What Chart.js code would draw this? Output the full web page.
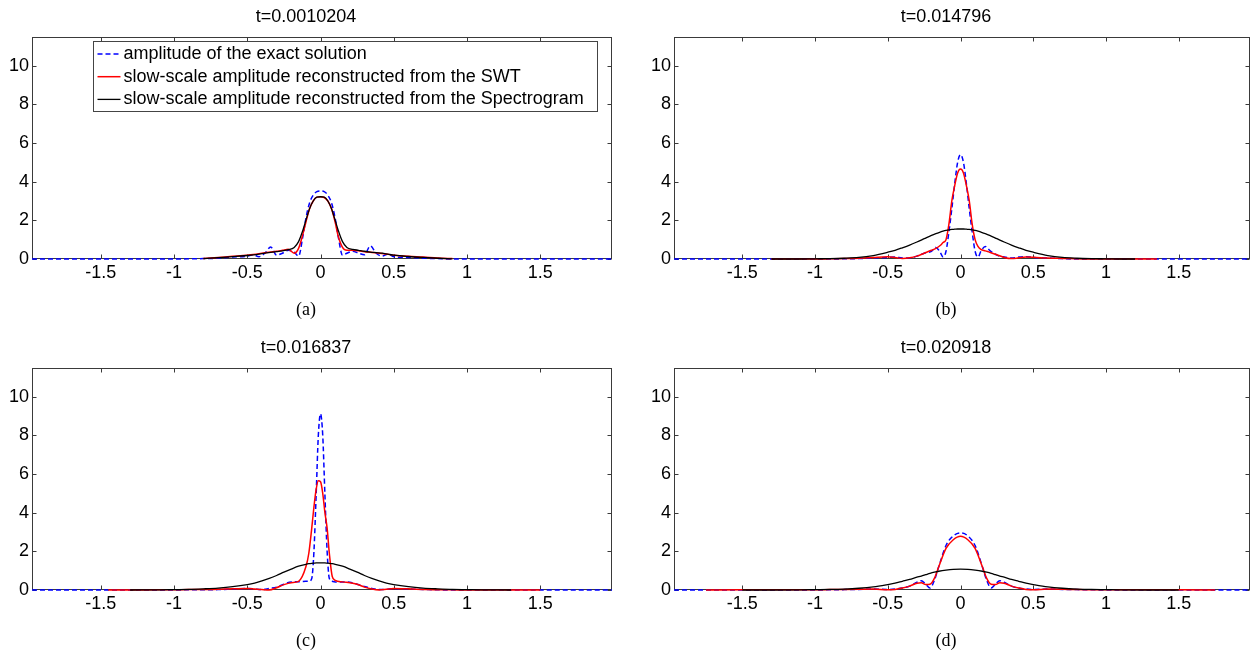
<!DOCTYPE html>
<html>
<head>
<meta charset="utf-8">
<script src="https://cdn.jsdelivr.net/npm/chart.js@4.4.0/dist/chart.umd.min.js"></script>
<style>
  html, body { margin: 0; padding: 0; background: #fff; }
  body { width: 1256px; height: 657px; position: relative; overflow: hidden; }
  canvas { position: absolute; }
</style>
</head>
<body>
<canvas id="chartA" width="628" height="328" style="left:0;top:0"></canvas>
<canvas id="chartB" width="614" height="328" style="left:642px;top:0"></canvas>
<canvas id="chartC" width="628" height="328" style="left:0;top:331px"></canvas>
<canvas id="chartD" width="614" height="328" style="left:642px;top:331px"></canvas>
<script>
const xTicks = [-1.5, -1, -0.5, 0, 0.5, 1, 1.5];
const yTicks = [0, 2, 4, 6, 8, 10];
const seriesNames = [
  "amplitude of the exact solution",
  "slow-scale amplitude reconstructed from the SWT",
  "slow-scale amplitude reconstructed from the Spectrogram",
];
const titles = ["t=0.0010204", "t=0.014796", "t=0.016837", "t=0.020918"];
const captions = ["(a)", "(b)", "(c)", "(d)"];

// (a)
const aX = [-1.97, -1.0, -0.8, -0.7, -0.6, -0.5, -0.46, -0.42, -0.38, -0.34, -0.3, -0.26, -0.22, -0.18, -0.15, -0.12, -0.1, -0.075, -0.05, -0.025, 0, 0.025, 0.05, 0.075, 0.1, 0.12, 0.15, 0.18, 0.22, 0.26, 0.3, 0.34, 0.38, 0.42, 0.46, 0.5, 0.6, 0.7, 0.8, 0.9, 1.0, 1.99];
const aExact = [0, 0, 0.02, 0.04, 0.1, 0.15, 0.22, 0.12, 0.3, 0.62, 0.2, 0.3, 0.45, 0.35, 0.15, 1.2, 2.1, 2.9, 3.3, 3.48, 3.52, 3.48, 3.3, 2.9, 2.1, 1.2, 0.2, 0.3, 0.4, 0.3, 0.22, 0.68, 0.3, 0.15, 0.25, 0.12, 0.08, 0.04, 0.02, 0, 0, 0];
const aSwt = [null, null, 0.02, 0.08, 0.14, 0.2, 0.23, 0.27, 0.32, 0.36, 0.4, 0.45, 0.5, 0.3, 0.55, 1.3, 1.9, 2.6, 3.0, 3.2, 3.22, 3.18, 3.0, 2.6, 1.9, 1.2, 0.6, 0.45, 0.45, 0.42, 0.38, 0.35, 0.32, 0.28, 0.24, 0.2, 0.14, 0.1, 0.05, 0.02, null, null];
const aSpec = [null, null, 0.02, 0.07, 0.12, 0.18, 0.21, 0.25, 0.3, 0.34, 0.38, 0.42, 0.48, 0.6, 0.9, 1.5, 2.0, 2.6, 3.0, 3.2, 3.22, 3.2, 3.0, 2.6, 2.0, 1.5, 0.9, 0.6, 0.5, 0.45, 0.4, 0.36, 0.33, 0.3, 0.25, 0.2, 0.13, 0.08, 0.04, 0.01, null, null];

// (b)
const bX = [-1.97, -1.3, -1.1, -1.0, -0.9, -0.8, -0.7, -0.6, -0.5, -0.45, -0.4, -0.35, -0.3, -0.25, -0.2, -0.17, -0.14, -0.12, -0.1, -0.08, -0.06, -0.04, -0.02, 0, 0.02, 0.04, 0.06, 0.08, 0.1, 0.12, 0.14, 0.17, 0.2, 0.25, 0.3, 0.35, 0.4, 0.45, 0.5, 0.6, 0.7, 0.8, 0.9, 1.0, 1.1, 1.2, 1.35, 1.99];
const bExact = [0, 0, 0, 0, 0, 0.01, 0.02, 0.05, 0.08, 0.1, 0.05, 0.05, 0.15, 0.3, 0.4, 0.6, 0.35, 0.1, 0.4, 1.4, 2.6, 3.9, 5.0, 5.4, 5.0, 3.9, 2.6, 1.4, 0.4, 0.1, 0.4, 0.65, 0.45, 0.2, 0.1, 0.05, 0.1, 0.12, 0.08, 0.05, 0.02, 0, 0, 0, 0, 0, 0, 0];
const bSwt = [null, 0, 0, 0, 0.01, 0.02, 0.04, 0.08, 0.12, 0.08, 0.03, 0.06, 0.15, 0.3, 0.45, 0.55, 0.7, 0.85, 1.0, 1.8, 3.0, 3.8, 4.45, 4.65, 4.45, 3.8, 3.0, 1.8, 1.0, 0.65, 0.5, 0.42, 0.35, 0.22, 0.08, 0.02, 0.06, 0.1, 0.09, 0.05, 0.03, 0.01, 0, 0, 0, 0, 0, null];
const bSpec = [null, 0, 0, 0.01, 0.02, 0.04, 0.08, 0.18, 0.35, 0.45, 0.58, 0.72, 0.88, 1.05, 1.22, 1.31, 1.39, 1.44, 1.48, 1.51, 1.53, 1.54, 1.55, 1.55, 1.55, 1.54, 1.53, 1.51, 1.48, 1.44, 1.39, 1.31, 1.22, 1.05, 0.88, 0.72, 0.58, 0.45, 0.35, 0.18, 0.08, 0.04, 0.02, 0.01, 0, 0, null, null];

// (c)
const cX = [-1.97, -1.45, -1.3, -1.1, -1.0, -0.9, -0.8, -0.7, -0.6, -0.5, -0.45, -0.4, -0.35, -0.3, -0.25, -0.2, -0.15, -0.1, -0.08, -0.06, -0.045, -0.03, -0.015, 0, 0.015, 0.03, 0.045, 0.06, 0.08, 0.1, 0.15, 0.2, 0.25, 0.3, 0.35, 0.4, 0.45, 0.5, 0.6, 0.7, 0.8, 0.9, 1.0, 1.1, 1.3, 1.5, 1.99];
const cExact = [0, 0, 0, 0, 0, 0.01, 0.01, 0.02, 0.05, 0.08, 0.05, 0.02, 0.08, 0.15, 0.3, 0.42, 0.43, 0.45, 0.45, 0.6, 2.0, 4.9, 8.0, 9.1, 8.0, 4.9, 2.0, 0.6, 0.45, 0.42, 0.42, 0.4, 0.3, 0.18, 0.08, 0.02, 0.04, 0.07, 0.05, 0.03, 0.01, 0, 0, 0, 0, 0, 0];
const cSwt = [null, 0, 0, 0.01, 0.01, 0.02, 0.02, 0.04, 0.06, 0.08, 0.05, 0.02, 0, 0.12, 0.28, 0.38, 0.45, 1.2, 1.9, 3.2, 4.3, 5.2, 5.65, 5.6, 5.0, 4.0, 3.2, 1.9, 0.7, 0.5, 0.42, 0.38, 0.3, 0.15, 0.05, 0, 0.04, 0.08, 0.06, 0.03, 0.01, 0.01, 0, 0, 0, 0, null];
const cSpec = [null, null, 0, 0.01, 0.02, 0.03, 0.06, 0.1, 0.17, 0.28, 0.36, 0.47, 0.6, 0.75, 0.92, 1.08, 1.23, 1.33, 1.36, 1.38, 1.39, 1.4, 1.4, 1.4, 1.4, 1.4, 1.39, 1.38, 1.36, 1.33, 1.23, 1.08, 0.92, 0.75, 0.6, 0.47, 0.36, 0.28, 0.17, 0.1, 0.06, 0.03, 0.02, 0.01, 0, null, null];

// (d)
const dX = [-1.97, -1.75, -1.5, -1.3, -1.1, -1.0, -0.9, -0.8, -0.7, -0.6, -0.5, -0.45, -0.4, -0.35, -0.3, -0.27, -0.24, -0.21, -0.18, -0.15, -0.1, -0.05, 0, 0.05, 0.1, 0.15, 0.18, 0.21, 0.24, 0.27, 0.3, 0.35, 0.4, 0.45, 0.5, 0.6, 0.7, 0.8, 0.9, 1.0, 1.1, 1.3, 1.5, 1.75, 1.99];
const dExact = [0, 0, 0, 0, 0, 0, 0.01, 0.02, 0.03, 0.05, 0.03, 0.05, 0.1, 0.2, 0.4, 0.48, 0.3, 0.1, 0.5, 1.2, 2.3, 2.8, 2.95, 2.8, 2.3, 1.2, 0.5, 0.1, 0.3, 0.48, 0.4, 0.2, 0.1, 0.05, 0.03, 0.05, 0.03, 0.02, 0.01, 0, 0, 0, 0, 0, 0];
const dSwt = [null, 0, 0.01, 0.01, 0.01, 0.01, 0.02, 0.03, 0.04, 0.05, 0.01, 0.03, 0.1, 0.2, 0.35, 0.38, 0.28, 0.3, 0.6, 1.2, 2.15, 2.6, 2.78, 2.6, 2.15, 1.2, 0.6, 0.3, 0.28, 0.38, 0.35, 0.2, 0.1, 0.03, 0.01, 0.05, 0.04, 0.02, 0.01, 0.01, 0.01, 0.01, 0.01, 0, null];
const dSpec = [null, null, 0, 0, 0.01, 0.02, 0.03, 0.05, 0.09, 0.16, 0.28, 0.35, 0.45, 0.55, 0.66, 0.72, 0.79, 0.86, 0.92, 0.97, 1.03, 1.07, 1.08, 1.07, 1.03, 0.97, 0.92, 0.86, 0.79, 0.72, 0.66, 0.55, 0.45, 0.35, 0.28, 0.16, 0.09, 0.05, 0.03, 0.02, 0.01, 0, 0, null, null];

const sansFont = "'Liberation Sans', Arial, sans-serif";
const serifFont = "'Liberation Serif', 'Times New Roman', serif";

// box round the axes with inward ticks, like matlab
const frame = {
  id: "frame",
  beforeDatasetsDraw(chart) {
    const { ctx, chartArea: a, scales } = chart;
    const L = Math.round(a.left) + 0.5, R = Math.round(a.right) - 0.5;
    const T = Math.round(a.top) + 0.5, B = Math.round(a.bottom) - 0.5;
    ctx.save();
    ctx.strokeStyle = "#3a3a3a";
    ctx.lineWidth = 1;
    ctx.strokeRect(L, T, R - L, B - T);
    ctx.beginPath();
    scales.x.ticks.forEach((t) => {
      const px = Math.round(scales.x.getPixelForValue(t.value)) + 0.5;
      ctx.moveTo(px, B); ctx.lineTo(px, B - 4);
      ctx.moveTo(px, T); ctx.lineTo(px, T + 4);
    });
    scales.y.ticks.forEach((t) => {
      const py = Math.round(scales.y.getPixelForValue(t.value)) + 0.5;
      ctx.moveTo(L, py); ctx.lineTo(L + 4, py);
      ctx.moveTo(R, py); ctx.lineTo(R - 4, py);
    });
    ctx.stroke();
    ctx.restore();
  },
};

// legend box inside the first panel
const boxLegend = {
  id: "boxLegend",
  afterDatasetsDraw(chart) {
    const { ctx, chartArea: a } = chart;
    const x0 = Math.round(a.left) + 61.5, y0 = Math.round(a.top) + 4.5, w = 504, h = 70;
    ctx.save();
    ctx.fillStyle = "#fff";
    ctx.fillRect(x0, y0, w, h);
    ctx.strokeStyle = "#444";
    ctx.lineWidth = 1;
    ctx.strokeRect(x0, y0, w, h);
    ctx.font = "18px " + sansFont;
    ctx.textBaseline = "middle";
    chart.data.datasets.forEach((ds, i) => {
      const y = y0 + 12.5 + i * 22.7;
      ctx.strokeStyle = ds.borderColor;
      ctx.lineWidth = ds.borderWidth;
      ctx.setLineDash(ds.borderDash || []);
      ctx.beginPath();
      ctx.moveTo(x0 + 4, y);
      ctx.lineTo(x0 + 27, y);
      ctx.stroke();
      ctx.setLineDash([]);
      ctx.fillStyle = "#000";
      ctx.fillText(ds.label, x0 + 30, y);
    });
    ctx.restore();
  },
};

function points(xs, ys) {
  return xs.map((x, i) => ({ x, y: ys[i] }));
}

function makePanel(id, idx, xs, exact, swt, spec, padRight, withLegend) {
  const common = { pointRadius: 0, borderWidth: 1.5, cubicInterpolationMode: "monotone", clip: false, spanGaps: false };
  new Chart(document.getElementById(id), {
    type: "line",
    data: {
      datasets: [
        { ...common, label: seriesNames[0], data: points(xs, exact), borderColor: "#0000ff", borderDash: [5, 3], order: 2 },
        { ...common, label: seriesNames[1], data: points(xs, swt), borderColor: "#ff0000", order: 1 },
        { ...common, label: seriesNames[2], data: points(xs, spec), borderColor: "#000000", borderWidth: 1.3, order: 0 },
      ],
    },
    options: {
      responsive: false,
      animation: false,
      layout: { padding: { left: 0, right: padRight, top: 0, bottom: 0 } },
      plugins: {
        legend: { display: false },
        tooltip: { enabled: false },
        title: {
          display: true,
          text: titles[idx],
          color: "#000",
          font: { family: sansFont, size: 18, weight: "normal", lineHeight: 1.2 },
          padding: { top: 6, bottom: 9 },
        },
        subtitle: {
          display: true,
          position: "bottom",
          text: captions[idx],
          color: "#000",
          font: { family: serifFont, size: 18, weight: "normal", lineHeight: 1.2 },
          padding: { top: 0, bottom: 7 },
        },
      },
      scales: {
        x: {
          type: "linear",
          min: -1.97,
          max: 1.99,
          grid: { display: false, drawTicks: false },
          border: { display: false },
          ticks: { color: "#000", padding: 3, font: { family: sansFont, size: 18 }, callback: (v) => String(v) },
          afterBuildTicks: (s) => { s.ticks = xTicks.map((v) => ({ value: v })); },
          afterFit: (s) => { s.height = 40.4; },
        },
        y: {
          min: 0,
          max: 11.5,
          grid: { display: false, drawTicks: false },
          border: { display: false },
          ticks: { color: "#000", padding: 3, font: { family: sansFont, size: 18 }, callback: (v) => String(v) },
          afterBuildTicks: (s) => { s.ticks = yTicks.map((v) => ({ value: v })); },
          afterFit: (s) => { s.width = 32; },
        },
      },
    },
    plugins: withLegend ? [frame, boxLegend] : [frame],
  });
}

makePanel("chartA", 0, aX, aExact, aSwt, aSpec, 16, true);
makePanel("chartB", 1, bX, bExact, bSwt, bSpec, 6, false);
makePanel("chartC", 2, cX, cExact, cSwt, cSpec, 16, false);
makePanel("chartD", 3, dX, dExact, dSwt, dSpec, 6, false);
</script>
</body>
</html>
